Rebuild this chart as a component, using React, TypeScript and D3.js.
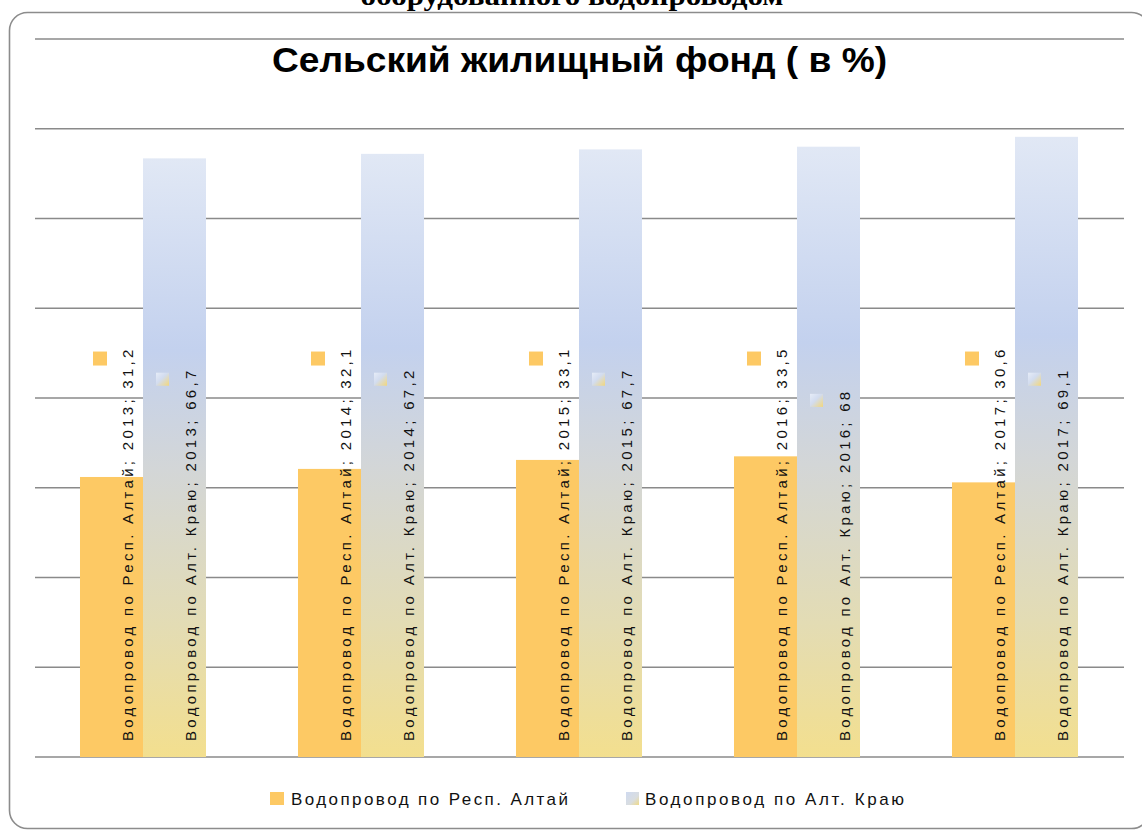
import React from "react";
import * as d3 from "d3";

const years = ["2013", "2014", "2015", "2016", "2017"];
const altaiValues = [31.2, 32.1, 33.1, 33.5, 30.6];
const krayValues = [66.7, 67.2, 67.7, 68, 69.1];
const seriesNames = ["Водопровод по Респ. Алтай", "Водопровод по Алт. Краю"];
const yTicks = [0, 10, 20, 30, 40, 50, 60, 70, 80];
const chartTitle = "Сельский жилищный фонд ( в %)";
const topCaption = "оборудованного водопроводом";

const W = 1142;
const H = 831;
const ORANGE = "#fdc964";
const GRID = "#8a8a8a";
const LABEL_FONT = "'Liberation Sans', Arial, sans-serif";

const fmt = (v: number) => String(v).replace(".", ",");

export default function App() {
  const x0 = d3.scaleBand<string>().domain(years).range([34, 1124]).paddingInner(0.422).paddingOuter(0.211);
  const x1 = d3.scaleBand<string>().domain(["a", "k"]).range([0, x0.bandwidth()]);
  const y = d3.scaleLinear().domain([0, 80]).range([757, 39]);

  const series = [
    { key: "a", name: seriesNames[0], values: altaiValues, fill: ORANGE, keyFill: ORANGE, keySize: 14 },
    { key: "k", name: seriesNames[1], values: krayValues, fill: "url(#blueGrad)", keyFill: "url(#keyGrad)", keySize: 13 },
  ];

  const charW = 10.58;
  const labelStartY = 741;

  return (
    <svg width={W} height={H} style={{ position: "absolute", left: 0, top: 0, background: "#fff" }}>
      <defs>
        <linearGradient id="blueGrad" x1="0" y1="0" x2="0" y2="1">
          <stop offset="0" stopColor="#e1e8f5" />
          <stop offset="0.32" stopColor="#c3d1ee" />
          <stop offset="0.52" stopColor="#d3d6d7" />
          <stop offset="0.78" stopColor="#e3dcb4" />
          <stop offset="1" stopColor="#f3df8e" />
        </linearGradient>
        <linearGradient id="keyGrad" x1="0" y1="0" x2="1" y2="1">
          <stop offset="0" stopColor="#e6ecf7" />
          <stop offset="0.45" stopColor="#d2dcef" />
          <stop offset="1" stopColor="#f3d77a" />
        </linearGradient>
        <linearGradient id="legGrad" x1="0" y1="0" x2="1" y2="1">
          <stop offset="0" stopColor="#cfdaf0" />
          <stop offset="0.6" stopColor="#d9dde0" />
          <stop offset="1" stopColor="#f0da86" />
        </linearGradient>
      </defs>

      <text x={572} y={5} textAnchor="middle" fontFamily="'Liberation Serif', 'Times New Roman', serif" fontWeight="bold" fontSize={27} textLength={423} lengthAdjust="spacingAndGlyphs" fill="#000">
        {topCaption}
      </text>

      <rect x={9.5} y={12.5} width={1140} height={816} rx={18} ry={18} fill="none" stroke="#8c8c8c" strokeWidth={1.6} />

      {yTicks.map((t) => (
        <line key={t} x1={35} x2={1124} y1={y(t)} y2={y(t)} stroke={GRID} strokeWidth={1.4} />
      ))}

      <text x={579.5} y={72} textAnchor="middle" fontFamily="'Liberation Sans Narrow', 'Liberation Sans', Arial, sans-serif" fontWeight="bold" fontSize={35} textLength={615} lengthAdjust="spacingAndGlyphs" fill="#000">
        {chartTitle}
      </text>

      {years.map((yr, i) => (
        <g key={yr} transform={`translate(${x0(yr)},0)`}>
          {series.map((s) => {
            const bx = x1(s.key)!;
            const v = s.values[i];
            return (
              <rect key={s.key} x={bx} y={y(v)} width={x1.bandwidth()} height={y(0) - y(v)} fill={s.fill} />
            );
          })}
        </g>
      ))}

      {years.map((yr, i) => (
        <g key={"lbl" + yr} transform={`translate(${x0(yr)},0)`}>
          {series.map((s) => {
            const bx = x1(s.key)!;
            const v = s.values[i];
            const label = `${s.name}; ${yr}; ${fmt(v)}`;
            const len = label.length * charW;
            const endY = labelStartY - len;
            return (
              <g key={s.key}>
                <text
                  transform={`translate(${bx + 53},${labelStartY}) rotate(-90)`}
                  fontFamily={LABEL_FONT}
                  fontSize={15}
                  textLength={len}
                  lengthAdjust="spacing"
                  fill="#111"
                >
                  {label}
                </text>
                <rect x={bx + 13} y={endY + 2} width={s.keySize} height={s.keySize} fill={s.keyFill} />
              </g>
            );
          })}
        </g>
      ))}

      <g>
        <rect x={270} y={792} width={14} height={13} fill={ORANGE} />
        <text x={291} y={805} fontFamily={LABEL_FONT} fontSize={17} textLength={277} lengthAdjust="spacing" fill="#111">
          {seriesNames[0]}
        </text>
        <rect x={626} y={792} width={13} height={13} fill="url(#legGrad)" />
        <text x={645} y={805} fontFamily={LABEL_FONT} fontSize={17} textLength={259} lengthAdjust="spacing" fill="#111">
          {seriesNames[1]}
        </text>
      </g>
    </svg>
  );
}
